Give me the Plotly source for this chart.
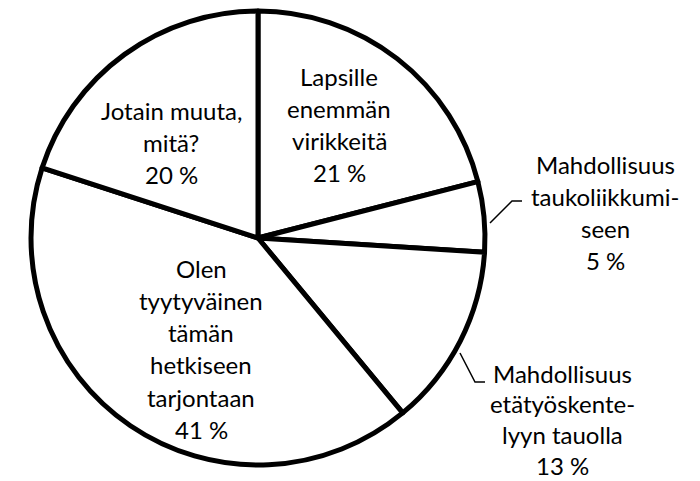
import plotly.graph_objects as go

# data
categories = [
    "Lapsille enemmän virikkeitä",
    "Mahdollisuus taukoliikkumiseen",
    "Mahdollisuus etätyöskentelyyn tauolla",
    "Olen tyytyväinen tämän hetkiseen tarjontaan",
    "Jotain muuta, mitä?",
]
values = [21, 5, 13, 41, 20]
label_lines = [
    ["Lapsille", "enemmän", "virikkeitä", "21 %"],
    ["Mahdollisuus", "taukoliikkumi-", "seen", "5 %"],
    ["Mahdollisuus", "etätyöskente-", "lyyn tauolla", "13 %"],
    ["Olen", "tyytyväinen", "tämän", "hetkiseen", "tarjontaan", "41 %"],
    ["Jotain muuta,", "mitä?", "20 %"],
]

W, H = 700, 481
cx, cy, r = 258, 238, 227  # pixel layout of pie


def px(x, y):
    return x / W, 1 - y / H


fig = go.Figure(
    go.Pie(
        labels=categories,
        values=values,
        sort=False,
        direction="clockwise",
        rotation=0,
        textinfo="none",
        hoverinfo="skip",
        showlegend=False,
        marker=dict(colors=["white"] * len(values), line=dict(color="black", width=5)),
        domain=dict(x=[(cx - r) / W, (cx + r) / W], y=[1 - (cy + r) / H, 1 - (cy - r) / H]),
    )
)

# label block layout: (center x, first line y, line step) in pixels
label_pos = [(339, 76, 32.3), (605, 164, 32.3), (562, 373, 30.8), (201, 268, 32.3), (171, 110, 32.3)]
for lines, (lx, ly, step) in zip(label_lines, label_pos):
    for i, line in enumerate(lines):
        x, y = px(lx, ly + i * step)
        fig.add_annotation(
            x=x, y=y, xref="paper", yref="paper", text=line, showarrow=False,
            xanchor="center", yanchor="middle", align="center",
            font=dict(family="Lato", size=24, color="black"),
        )

# leader lines
def path(points):
    s = ""
    for i, (a, b) in enumerate(points):
        x, y = px(a, b)
        s += ("M" if i == 0 else "L") + f"{x},{y} "
    return s

for pts in [[(490, 223), (512, 201), (522, 201)], [(460, 353), (475, 382), (485, 382)]]:
    fig.add_shape(type="path", xref="paper", yref="paper", path=path(pts),
                  line=dict(color="black", width=1.5))

fig.update_layout(
    width=W, height=H,
    margin=dict(l=0, r=0, t=0, b=0),
    paper_bgcolor="white", plot_bgcolor="white",
)

fig.write_html("out.html", config={"displayModeBar": False},
               post_script="document.body.style.margin='0';")
